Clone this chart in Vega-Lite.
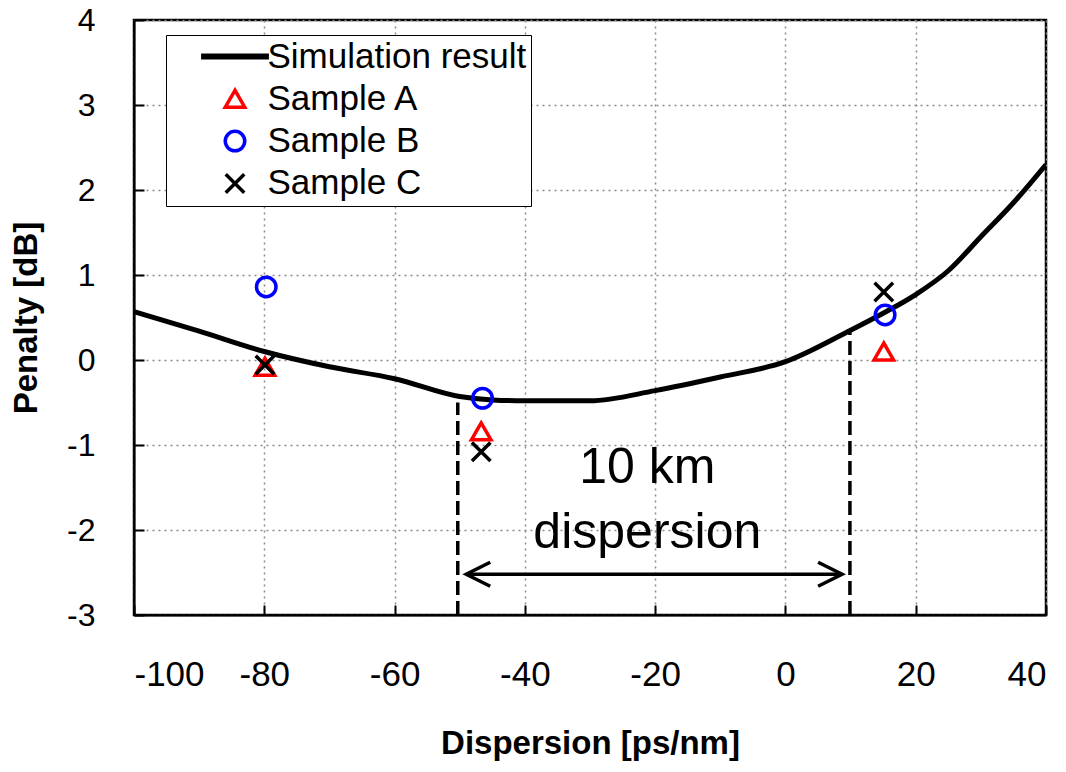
{
  "$schema": "https://vega.github.io/schema/vega-lite/v6.json",
  "width": 912,
  "height": 595,
  "autosize": {"type": "none"},
  "padding": {"left": 134, "top": 20, "right": 20, "bottom": 157},
  "background": "white",
  "config": {
    "font": "Liberation Sans",
    "view": {"stroke": "black", "strokeWidth": 2.5},
    "axis": {
      "domainColor": "black",
      "domainWidth": 2,
      "tickColor": "black",
      "tickWidth": 2,
      "tickSize": -10,
      "gridColor": "#8a8a8a",
      "gridDash": [2, 4],
      "gridWidth": 1.5,
      "labelColor": "black",
      "labelFont": "Liberation Sans",
      "titleFont": "Liberation Sans",
      "titleFontWeight": "bold",
      "titleFontSize": 33,
      "titleColor": "black"
    },
    "legend": {
      "orient": "none",
      "legendX": 32,
      "legendY": 15,
      "padding": 4,
      "fillColor": "white",
      "strokeColor": "black",
      "symbolSize": 380,
      "symbolStrokeWidth": 3.5,
      "symbolOpacity": 1,
      "symbolOffset": 47.5,
      "labelOffset": 15,
      "labelFontSize": 35,
      "labelFont": "Liberation Sans",
      "labelColor": "black",
      "rowPadding": 6.3,
      "labelLimit": 600
    }
  },
  "datasets": {
    "curve": [
      {"d": -100, "p": 0.57},
      {"d": -90, "p": 0.34},
      {"d": -80, "p": 0.1},
      {"d": -70, "p": -0.08},
      {"d": -60, "p": -0.22},
      {"d": -50, "p": -0.43},
      {"d": -45, "p": -0.47},
      {"d": -40, "p": -0.48},
      {"d": -30, "p": -0.48},
      {"d": -20, "p": -0.36},
      {"d": -10, "p": -0.2},
      {"d": 0, "p": -0.02},
      {"d": 10, "p": 0.35},
      {"d": 15, "p": 0.55},
      {"d": 20, "p": 0.77},
      {"d": 25, "p": 1.05},
      {"d": 30, "p": 1.45},
      {"d": 35, "p": 1.85},
      {"d": 40, "p": 2.3}
    ],
    "samples": [
      {"series": "Sample A", "d": -79.9, "p": -0.08},
      {"series": "Sample A", "d": -46.7, "p": -0.84},
      {"series": "Sample A", "d": 15.1, "p": 0.1},
      {"series": "Sample B", "d": -79.7, "p": 0.86},
      {"series": "Sample B", "d": -46.5, "p": -0.45},
      {"series": "Sample B", "d": 15.3, "p": 0.53},
      {"series": "Sample C", "d": -79.9, "p": -0.06},
      {"series": "Sample C", "d": -46.7, "p": -1.08},
      {"series": "Sample C", "d": 15.1, "p": 0.8}
    ],
    "bounds": [
      {"d": -50.3, "p": -3, "p2": -0.5},
      {"d": 9.9, "p": -3, "p2": 0.35}
    ],
    "arrow": [
      {"d": -49, "d2": 8.7, "p": -2.52}
    ],
    "leftHead": [
      {"d": -49, "p": -2.52}
    ],
    "rightHead": [
      {"d": 8.7, "p": -2.52}
    ],
    "notes": [
      {"d": -21.2, "p": -1.45, "t": "10 km"},
      {"d": -21.2, "p": -2.21, "t": "dispersion"}
    ]
  },
  "layer": [
    {
      "data": {"name": "curve"},
      "mark": {"type": "line", "color": "black", "strokeWidth": 5, "interpolate": "monotone", "clip": true},
      "encoding": {
        "x": {
          "field": "d", "type": "quantitative",
          "scale": {"domain": [-100, 40], "nice": false, "zero": false},
          "axis": {
            "values": [-100, -80, -60, -40, -20, 0, 20, 40],
            "labelExpr": "'' + datum.value",
            "title": "Dispersion [ps/nm]",
            "labelFontSize": 35,
            "labelPadding": 52,
            "titlePadding": 35,
            "grid": true
          }
        },
        "y": {
          "field": "p", "type": "quantitative",
          "scale": {"domain": [-3, 4], "nice": false, "zero": false},
          "axis": {
            "values": [-3, -2, -1, 0, 1, 2, 3, 4],
            "labelExpr": "'' + datum.value",
            "title": "Penalty [dB]",
            "labelFontSize": 32,
            "labelPadding": 49,
            "titlePadding": 23,
            "grid": true
          }
        }
      }
    },
    {
      "data": {"name": "bounds"},
      "mark": {"type": "rule", "color": "black", "strokeWidth": 3.5, "strokeDash": [14, 6]},
      "encoding": {
        "x": {"field": "d", "type": "quantitative"},
        "y": {"field": "p", "type": "quantitative"},
        "y2": {"field": "p2"}
      }
    },
    {
      "data": {"name": "arrow"},
      "mark": {"type": "rule", "color": "black", "strokeWidth": 3.5},
      "encoding": {
        "x": {"field": "d", "type": "quantitative"},
        "x2": {"field": "d2"},
        "y": {"field": "p", "type": "quantitative"}
      }
    },
    {
      "data": {"name": "leftHead"},
      "mark": {"type": "point", "filled": false, "color": "black", "opacity": 1, "strokeWidth": 3.5, "size": 36, "shape": "M8,-4L0,0L8,4"},
      "encoding": {
        "x": {"field": "d", "type": "quantitative"},
        "y": {"field": "p", "type": "quantitative"}
      }
    },
    {
      "data": {"name": "rightHead"},
      "mark": {"type": "point", "filled": false, "color": "black", "opacity": 1, "strokeWidth": 3.5, "size": 36, "shape": "M-8,-4L0,0L-8,4"},
      "encoding": {
        "x": {"field": "d", "type": "quantitative"},
        "y": {"field": "p", "type": "quantitative"}
      }
    },
    {
      "data": {"name": "notes"},
      "mark": {"type": "text", "fontSize": 50, "align": "center", "baseline": "alphabetic", "color": "black", "font": "Liberation Sans"},
      "encoding": {
        "x": {"field": "d", "type": "quantitative"},
        "y": {"field": "p", "type": "quantitative"},
        "text": {"field": "t"}
      }
    },
    {
      "data": {"name": "samples"},
      "mark": {"type": "point", "filled": false, "strokeWidth": 3.5, "size": 380, "opacity": 1},
      "encoding": {
        "x": {"field": "d", "type": "quantitative"},
        "y": {"field": "p", "type": "quantitative"},
        "color": {
          "field": "series", "type": "nominal",
          "scale": {
            "domain": ["Simulation result", "Sample A", "Sample B", "Sample C"],
            "range": ["black", "#ff0000", "#0000ff", "black"]
          },
          "legend": {"title": null, "encode": {"legend": {"update": {"strokeWidth": {"value": 2}}}}}
        },
        "shape": {
          "field": "series", "type": "nominal",
          "scale": {
            "domain": ["Simulation result", "Sample A", "Sample B", "Sample C"],
            "range": ["M-3.3,-0.12H3.3V0.12H-3.3Z", "triangle-up", "circle", "M-0.95,-0.95L0.95,0.95M-0.95,0.95L0.95,-0.95"]
          },
          "legend": {"title": null, "encode": {"legend": {"update": {"strokeWidth": {"value": 2}}}}}
        }
      }
    }
  ]
}
